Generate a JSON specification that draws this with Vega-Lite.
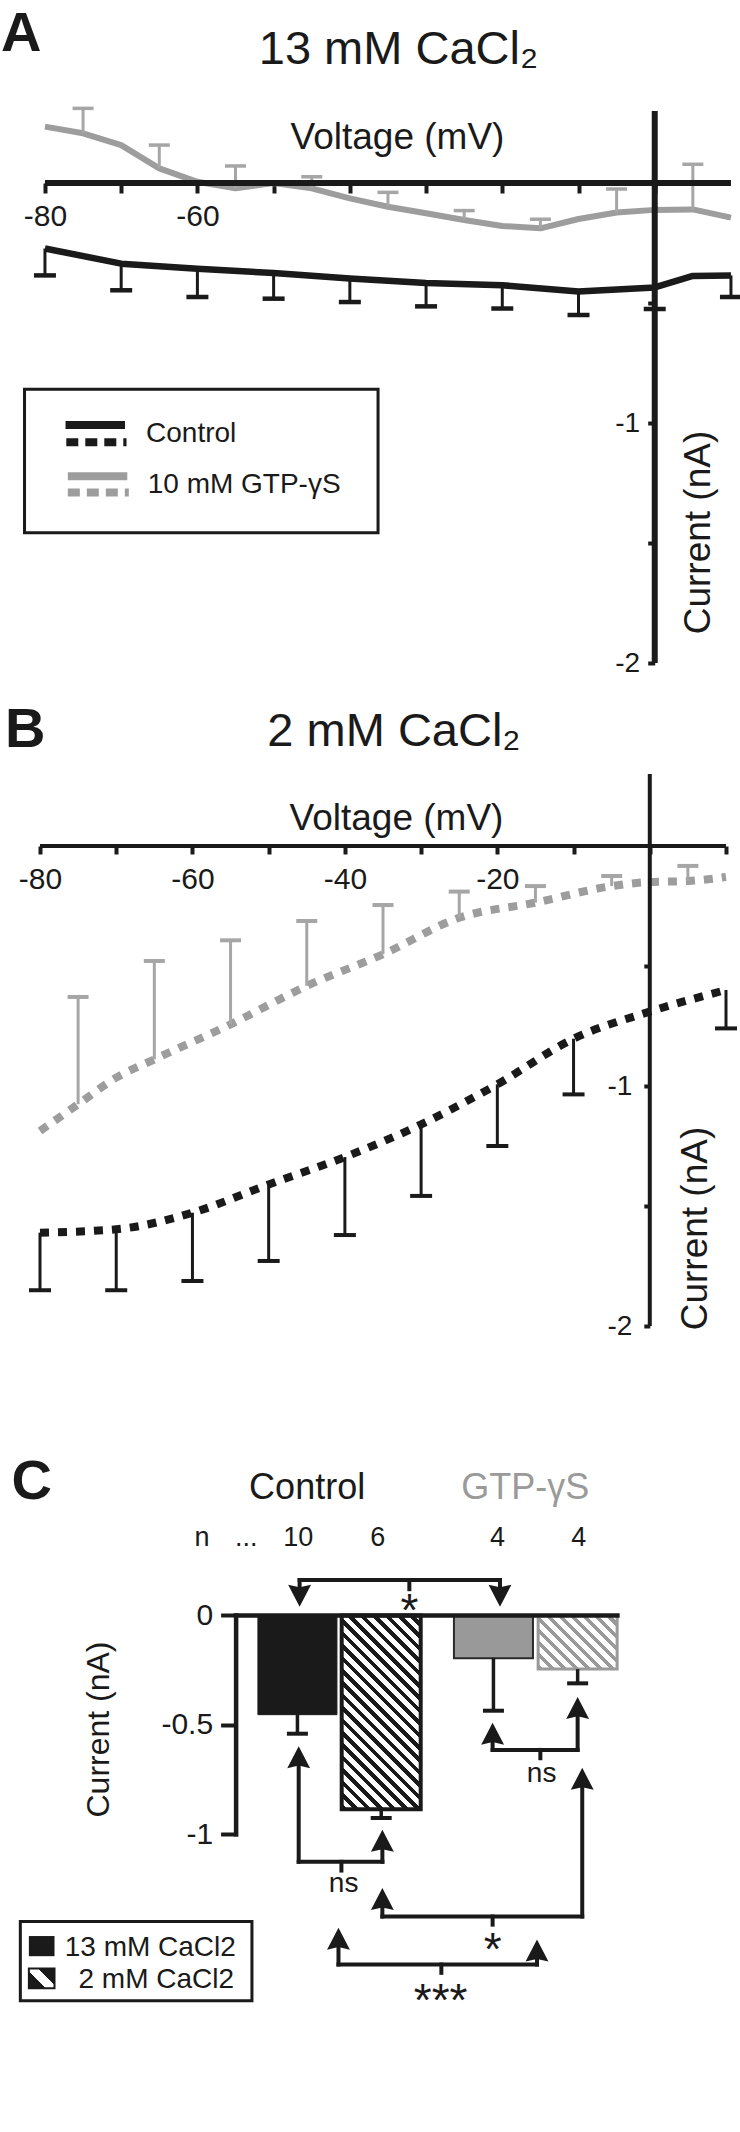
{
"$schema": "https://vega.github.io/schema/vega-lite/v6.json",
"background": "white",
"padding": {"left": 0, "top": 6, "right": 0, "bottom": 0},
"bounds": "flush",
"spacing": 111,
"config": {
  "view": {"stroke": null},
  "font": "Liberation Sans",
  "axis": {"grid": false, "domain": false, "labelColor": "#1a1a1a", "titleColor": "#1a1a1a", "tickColor": "#1a1a1a", "titleFontWeight": "normal", "labelFont": "Liberation Sans", "titleFont": "Liberation Sans", "labelOverlap": false, "labelFlush": false},
  "text": {"font": "Liberation Sans", "color": "#1a1a1a"}
},
"datasets": {
  "ctrlA": [
    {"v": -80, "i": -0.273, "e": -0.385},
    {"v": -70, "i": -0.336, "e": -0.447},
    {"v": -60, "i": -0.357, "e": -0.475},
    {"v": -50, "i": -0.375, "e": -0.482},
    {"v": -40, "i": -0.398, "e": -0.496},
    {"v": -30, "i": -0.417, "e": -0.514},
    {"v": -20, "i": -0.426, "e": -0.523},
    {"v": -10, "i": -0.452, "e": -0.55},
    {"v": 0, "i": -0.435, "e": -0.525},
    {"v": 5, "i": -0.387},
    {"v": 10, "i": -0.385, "e": -0.475}
  ],
  "gtpA": [
    {"v": -80, "i": 0.235},
    {"v": -75, "i": 0.207, "e": 0.311},
    {"v": -70, "i": 0.158},
    {"v": -65, "i": 0.061, "e": 0.158},
    {"v": -60, "i": 0.005},
    {"v": -55, "i": -0.022, "e": 0.071},
    {"v": -50, "i": 0.0},
    {"v": -45, "i": -0.022, "e": 0.026},
    {"v": -40, "i": -0.064},
    {"v": -35, "i": -0.099, "e": -0.039},
    {"v": -30, "i": -0.126},
    {"v": -25, "i": -0.154, "e": -0.115},
    {"v": -20, "i": -0.179},
    {"v": -15, "i": -0.189, "e": -0.151},
    {"v": -10, "i": -0.15},
    {"v": -5, "i": -0.123, "e": -0.025},
    {"v": 0, "i": -0.112},
    {"v": 5, "i": -0.11, "e": 0.078},
    {"v": 10, "i": -0.144}
  ],
  "ctrlB": [
    {"v": -80, "i": -1.611, "e": -1.851},
    {"v": -70, "i": -1.597, "e": -1.851},
    {"v": -60, "i": -1.528, "e": -1.8125},
    {"v": -50, "i": -1.41, "e": -1.729},
    {"v": -40, "i": -1.296, "e": -1.621},
    {"v": -30, "i": -1.16, "e": -1.458},
    {"v": -20, "i": -0.993, "e": -1.25},
    {"v": -10, "i": -0.803, "e": -1.035},
    {"v": 0, "i": -0.69},
    {"v": 10, "i": -0.6, "e": -0.76}
  ],
  "gtpB": [
    {"v": -80, "i": -1.1875},
    {"v": -75, "i": -1.076, "e": -0.629},
    {"v": -70, "i": -0.965},
    {"v": -65, "i": -0.889, "e": -0.479},
    {"v": -55, "i": -0.743, "e": -0.393},
    {"v": -45, "i": -0.583, "e": -0.3125},
    {"v": -35, "i": -0.451, "e": -0.246},
    {"v": -25, "i": -0.299, "e": -0.19},
    {"v": -15, "i": -0.236, "e": -0.167},
    {"v": -5, "i": -0.167, "e": -0.125},
    {"v": 0, "i": -0.15},
    {"v": 5, "i": -0.146, "e": -0.083},
    {"v": 10, "i": -0.129}
  ],
  "barsC": [
    {"k": "13 mM CaCl2, Control", "g": "Control", "pos": 0.99, "i": -0.453, "e": -0.54},
    {"k": "2 mM CaCl2, Control", "g": "Control", "pos": 1.99, "i": -0.885, "e": -0.925},
    {"k": "13 mM CaCl2, GTP-γS", "g": "GTP-γS", "pos": 3.33, "i": -0.195, "e": -0.435},
    {"k": "2 mM CaCl2, GTP-γS", "g": "GTP-γS", "pos": 4.335, "i": -0.245, "e": -0.31}
  ],
  "bracketsC": [
    {"x1": 1.016, "x2": 3.408, "y1": 0.162, "y2": 0.162},
    {"x1": 1.016, "x2": 1.016, "y1": 0.162, "y2": 0.1},
    {"x1": 3.408, "x2": 3.408, "y1": 0.162, "y2": 0.1},
    {"x1": 2.326, "x2": 2.326, "y1": 0.162, "y2": 0.12},
    {"x1": 3.32, "x2": 4.335, "y1": -0.614, "y2": -0.614},
    {"x1": 3.32, "x2": 3.32, "y1": -0.55, "y2": -0.614},
    {"x1": 4.335, "x2": 4.335, "y1": -0.432, "y2": -0.614},
    {"x1": 3.89, "x2": 3.89, "y1": -0.614, "y2": -0.652},
    {"x1": 1.005, "x2": 2.004, "y1": -1.125, "y2": -1.125},
    {"x1": 1.005, "x2": 1.005, "y1": -0.657, "y2": -1.125},
    {"x1": 2.004, "x2": 2.004, "y1": -1.039, "y2": -1.125},
    {"x1": 1.515, "x2": 1.515, "y1": -1.125, "y2": -1.165},
    {"x1": 2.004, "x2": 4.39, "y1": -1.375, "y2": -1.375},
    {"x1": 2.004, "x2": 2.004, "y1": -1.305, "y2": -1.375},
    {"x1": 4.39, "x2": 4.39, "y1": -0.756, "y2": -1.375},
    {"x1": 3.32, "x2": 3.32, "y1": -1.375, "y2": -1.412},
    {"x1": 1.48, "x2": 3.85, "y1": -1.594, "y2": -1.594},
    {"x1": 1.48, "x2": 1.48, "y1": -1.486, "y2": -1.594},
    {"x1": 3.85, "x2": 3.85, "y1": -1.54, "y2": -1.594},
    {"x1": 2.708, "x2": 2.708, "y1": -1.594, "y2": -1.632}
  ],
  "arrowsC": [
    {"x": 1.016, "y": 0.04, "d": "down"},
    {"x": 3.408, "y": 0.04, "d": "down"},
    {"x": 3.32, "y": -0.49, "d": "up"},
    {"x": 4.335, "y": -0.372, "d": "up"},
    {"x": 1.005, "y": -0.597, "d": "up"},
    {"x": 2.004, "y": -0.979, "d": "up"},
    {"x": 2.004, "y": -1.245, "d": "up"},
    {"x": 4.39, "y": -0.696, "d": "up"},
    {"x": 1.48, "y": -1.426, "d": "up"},
    {"x": 3.85, "y": -1.48, "d": "up"}
  ]
},
"vconcat": [
 {
  "width": 686, "height": 552,
  "layer": [
   {
    "data": {"values": [{"x1": -82.68, "x2": -36.3, "y1": -0.8596, "y2": -1.457}]},
    "mark": {"type": "rect", "fill": "white", "stroke": "#1a1a1a", "strokeWidth": 3},
    "encoding": {
      "x": {"field": "x1", "type": "quantitative", "scale": {"domain": [-80.65, 9.35], "nice": false, "zero": false},
        "axis": {"orient": "bottom", "offset": -480, "values": [-80, -70, -60, -50, -40, -30, -20, -10, 0, 10], "tickSize": 10, "tickWidth": 4, "labelExpr": "datum.value == -80 ? '-80' : datum.value == -60 ? '-60' : ''", "labelFontSize": 30, "labelPadding": 8, "labelDx": -7, "title": "Voltage (mV)", "titleFontSize": 37, "titleX": 357, "titleY": -46, "titleBaseline": "middle", "titleAlign": "center"}},
      "x2": {"field": "x2"},
      "y": {"field": "y1", "type": "quantitative", "scale": {"domain": [-2, 0.3], "nice": false, "zero": false},
        "axis": {"orient": "left", "offset": -614.7, "values": [-2, -1.5, -1, -0.5], "tickSize": 7, "tickWidth": 4, "labelExpr": "datum.value == -1 ? '-1' : datum.value == -2 ? '-2' : ''", "labelFontSize": 28, "labelPadding": 8, "title": "Current (nA)", "titleFontSize": 37, "titleX": 44, "titleY": 421, "titleAngle": -90, "titleBaseline": "middle", "titleAlign": "center"}},
      "y2": {"field": "y2"}
    }
   },
   {
    "data": {"values": [
      {"k": "Control solid", "x1": -77.3, "x2": -69.5, "y": -1.008},
      {"k": "Control dashed", "x1": -77.2, "x2": -69.3, "y": -1.08},
      {"k": "GTP solid", "x1": -77.0, "x2": -69.2, "y": -1.222},
      {"k": "GTP dashed", "x1": -77.0, "x2": -69.0, "y": -1.29}
    ]},
    "mark": {"type": "rule", "strokeWidth": 8, "strokeCap": "butt"},
    "encoding": {
      "x": {"field": "x1", "type": "quantitative"},
      "x2": {"field": "x2"},
      "y": {"field": "y", "type": "quantitative"},
      "color": {"field": "k", "type": "nominal", "scale": {"domain": ["Control solid", "Control dashed", "GTP solid", "GTP dashed"], "range": ["#1a1a1a", "#1a1a1a", "#9d9d9d", "#9d9d9d"]}, "legend": null},
      "strokeDash": {"field": "k", "type": "nominal", "scale": {"domain": ["Control solid", "Control dashed", "GTP solid", "GTP dashed"], "range": [[1, 0], [12, 7], [1, 0], [12, 7]]}, "legend": null}
    }
   },
   {
    "data": {"values": [{"x": -66.74, "y": -1.079, "t": "Control"}, {"x": -66.52, "y": -1.293, "t": "10 mM GTP-γS"}]},
    "mark": {"type": "text", "align": "left", "baseline": "alphabetic", "fontSize": 28},
    "encoding": {"x": {"field": "x", "type": "quantitative"}, "y": {"field": "y", "type": "quantitative"}, "text": {"field": "t"}}
   },
   {
    "data": {"name": "gtpA"},
    "mark": {"type": "line", "color": "#9d9d9d", "strokeWidth": 6, "strokeJoin": "round"},
    "encoding": {"x": {"field": "v", "type": "quantitative"}, "y": {"field": "i", "type": "quantitative"}}
   },
   {
    "data": {"name": "gtpA"},
    "transform": [{"filter": "isValid(datum.e)"}],
    "mark": {"type": "rule", "color": "#a6a6a6", "strokeWidth": 3},
    "encoding": {"x": {"field": "v", "type": "quantitative"}, "y": {"field": "i", "type": "quantitative"}, "y2": {"field": "e"}}
   },
   {
    "data": {"name": "gtpA"},
    "transform": [{"filter": "isValid(datum.e)"}],
    "mark": {"type": "tick", "orient": "horizontal", "color": "#a6a6a6", "size": 21, "thickness": 3.5, "opacity": 1},
    "encoding": {"x": {"field": "v", "type": "quantitative"}, "y": {"field": "e", "type": "quantitative"}}
   },
   {
    "data": {"name": "ctrlA"},
    "mark": {"type": "line", "color": "#1a1a1a", "strokeWidth": 6.5, "strokeJoin": "round"},
    "encoding": {"x": {"field": "v", "type": "quantitative"}, "y": {"field": "i", "type": "quantitative"}}
   },
   {
    "data": {"name": "ctrlA"},
    "transform": [{"filter": "isValid(datum.e)"}],
    "mark": {"type": "rule", "color": "#1a1a1a", "strokeWidth": 3},
    "encoding": {"x": {"field": "v", "type": "quantitative"}, "y": {"field": "i", "type": "quantitative"}, "y2": {"field": "e"}}
   },
   {
    "data": {"name": "ctrlA"},
    "transform": [{"filter": "isValid(datum.e)"}],
    "mark": {"type": "tick", "orient": "horizontal", "color": "#1a1a1a", "size": 22, "thickness": 4.5, "opacity": 1},
    "encoding": {"x": {"field": "v", "type": "quantitative"}, "y": {"field": "e", "type": "quantitative"}}
   },
   {
    "data": {"values": [{"x1": -80, "x2": 10, "y1": 0, "y2": 0}, {"x1": 0, "x2": 0, "y1": -2, "y2": 0.3}]},
    "mark": {"type": "rule", "color": "#1a1a1a", "strokeWidth": 6, "strokeCap": "butt"},
    "encoding": {"x": {"field": "x1", "type": "quantitative"}, "x2": {"field": "x2"}, "y": {"field": "y1", "type": "quantitative"}, "y2": {"field": "y2"}}
   },
   {
    "data": {"values": [{"x": -33.62, "y": 0.494, "t": "13 mM CaCl₂"}]},
    "mark": {"type": "text", "align": "center", "baseline": "alphabetic", "fontSize": 47},
    "encoding": {"x": {"field": "x", "type": "quantitative"}, "y": {"field": "y", "type": "quantitative"}, "text": {"field": "t"}}
   },
   {
    "data": {"values": [{"x": -85.77, "y": 0.733, "t": "A"}]},
    "mark": {"type": "text", "align": "left", "baseline": "top", "fontSize": 56, "fontWeight": "bold"},
    "encoding": {"x": {"field": "x", "type": "quantitative"}, "y": {"field": "y", "type": "quantitative"}, "text": {"field": "t"}}
   }
  ]
 },
 {
  "width": 686, "height": 552,
  "layer": [
   {
    "data": {"name": "gtpB"},
    "mark": {"type": "line", "color": "#9d9d9d", "strokeWidth": 8, "strokeDash": [9, 9], "strokeCap": "butt", "interpolate": "monotone"},
    "encoding": {
      "x": {"field": "v", "type": "quantitative", "scale": {"domain": [-80, 10], "nice": false, "zero": false},
        "axis": {"orient": "bottom", "offset": -480, "values": [-80, -70, -60, -50, -40, -30, -20, -10, 0, 10], "tickSize": 8, "tickWidth": 4, "labelExpr": "datum.value == -80 ? '-80' : datum.value == -60 ? '-60' : datum.value == -40 ? '-40' : datum.value == -20 ? '-20' : ''", "labelFontSize": 30, "labelPadding": 10, "labelDx": -4, "title": "Voltage (mV)", "titleFontSize": 37, "titleX": 356, "titleY": -28, "titleBaseline": "middle", "titleAlign": "center"}},
      "y": {"field": "i", "type": "quantitative", "scale": {"domain": [-2, 0.3], "nice": false, "zero": false},
        "axis": {"orient": "left", "offset": -609.8, "values": [-2, -1.5, -1, -0.5], "tickSize": 6, "tickWidth": 4, "labelExpr": "datum.value == -1 ? '-1' : datum.value == -2 ? '-2' : ''", "labelFontSize": 28, "labelPadding": 12, "title": "Current (nA)", "titleFontSize": 37, "titleX": 46, "titleY": 454, "titleAngle": -90, "titleBaseline": "middle", "titleAlign": "center"}}
    }
   },
   {
    "data": {"name": "gtpB"},
    "transform": [{"filter": "isValid(datum.e)"}],
    "mark": {"type": "rule", "color": "#a6a6a6", "strokeWidth": 3},
    "encoding": {"x": {"field": "v", "type": "quantitative"}, "y": {"field": "i", "type": "quantitative"}, "y2": {"field": "e"}}
   },
   {
    "data": {"name": "gtpB"},
    "transform": [{"filter": "isValid(datum.e)"}],
    "mark": {"type": "tick", "orient": "horizontal", "color": "#a6a6a6", "size": 21, "thickness": 4, "opacity": 1},
    "encoding": {"x": {"field": "v", "type": "quantitative"}, "y": {"field": "e", "type": "quantitative"}}
   },
   {
    "data": {"name": "ctrlB"},
    "mark": {"type": "line", "color": "#1a1a1a", "strokeWidth": 8, "strokeDash": [9, 9], "strokeCap": "butt", "interpolate": "monotone"},
    "encoding": {"x": {"field": "v", "type": "quantitative"}, "y": {"field": "i", "type": "quantitative"}}
   },
   {
    "data": {"name": "ctrlB"},
    "transform": [{"filter": "isValid(datum.e)"}],
    "mark": {"type": "rule", "color": "#1a1a1a", "strokeWidth": 3},
    "encoding": {"x": {"field": "v", "type": "quantitative"}, "y": {"field": "i", "type": "quantitative"}, "y2": {"field": "e"}}
   },
   {
    "data": {"name": "ctrlB"},
    "transform": [{"filter": "isValid(datum.e)"}],
    "mark": {"type": "tick", "orient": "horizontal", "color": "#1a1a1a", "size": 22, "thickness": 4, "opacity": 1},
    "encoding": {"x": {"field": "v", "type": "quantitative"}, "y": {"field": "e", "type": "quantitative"}}
   },
   {
    "data": {"values": [{"x1": -80, "x2": 10, "y1": 0, "y2": 0}, {"x1": 0, "x2": 0, "y1": -2, "y2": 0.3}]},
    "mark": {"type": "rule", "color": "#1a1a1a", "strokeWidth": 4, "strokeCap": "butt"},
    "encoding": {"x": {"field": "x1", "type": "quantitative"}, "x2": {"field": "x2"}, "y": {"field": "y1", "type": "quantitative"}, "y2": {"field": "y2"}}
   },
   {
    "data": {"values": [{"x": -33.56, "y": 0.4167, "t": "2 mM CaCl₂"}]},
    "mark": {"type": "text", "align": "center", "baseline": "alphabetic", "fontSize": 47},
    "encoding": {"x": {"field": "x", "type": "quantitative"}, "y": {"field": "y", "type": "quantitative"}, "text": {"field": "t"}}
   },
   {
    "data": {"values": [{"x": -84.59, "y": 0.596, "t": "B"}]},
    "mark": {"type": "text", "align": "left", "baseline": "top", "fontSize": 56, "fontWeight": "bold"},
    "encoding": {"x": {"field": "x", "type": "quantitative"}, "y": {"field": "y", "type": "quantitative"}, "text": {"field": "t"}}
   }
  ]
 },
 {
  "width": 686, "height": 704,
  "layer": [
   {
    "data": {"name": "barsC"},
    "transform": [{"filter": "datum.k == '13 mM CaCl2, Control'"}],
    "mark": {"type": "bar", "width": 79, "fill": "#1a1a1a", "stroke": "#1a1a1a", "strokeWidth": 1, "opacity": 1},
    "encoding": {
      "x": {"field": "pos", "type": "quantitative", "scale": {"domain": [-2.0235, 6.0465], "nice": false, "zero": false}, "axis": null},
      "y": {"field": "i", "type": "quantitative", "stack": null, "scale": {"domain": [-2.4, 0.815], "nice": false, "zero": false},
        "axis": {"orient": "left", "offset": -193.6, "values": [0, -0.5, -1], "tickSize": 13, "tickWidth": 4, "labelExpr": "datum.value == 0 ? '0' : '-' + abs(datum.value)", "labelFontSize": 30, "labelPadding": 8, "title": "Current (nA)", "titleFontSize": 32, "titleX": -135, "titleY": 292, "titleAngle": -90, "titleBaseline": "middle", "titleAlign": "center"}},
      "y2": {"datum": 0}
    }
   },
   {
    "data": {"name": "barsC"},
    "transform": [{"filter": "datum.k == '2 mM CaCl2, Control'"}],
    "mark": {"type": "bar", "width": 79, "stroke": "#1a1a1a", "strokeWidth": 4, "opacity": 1,
      "fill": {"gradient": "linear", "x1": 0, "y1": 1, "x2": 0.4924, "y2": -0.2072, "stops": [
        {"offset": 0, "color": "#1a1a1a"}, {"offset": 0.0205, "color": "#1a1a1a"}, {"offset": 0.0205, "color": "#ffffff"}, {"offset": 0.0455, "color": "#ffffff"},
        {"offset": 0.0455, "color": "#1a1a1a"}, {"offset": 0.066, "color": "#1a1a1a"}, {"offset": 0.066, "color": "#ffffff"}, {"offset": 0.0909, "color": "#ffffff"},
        {"offset": 0.0909, "color": "#1a1a1a"}, {"offset": 0.1114, "color": "#1a1a1a"}, {"offset": 0.1114, "color": "#ffffff"}, {"offset": 0.1364, "color": "#ffffff"},
        {"offset": 0.1364, "color": "#1a1a1a"}, {"offset": 0.1569, "color": "#1a1a1a"}, {"offset": 0.1569, "color": "#ffffff"}, {"offset": 0.1818, "color": "#ffffff"},
        {"offset": 0.1818, "color": "#1a1a1a"}, {"offset": 0.2023, "color": "#1a1a1a"}, {"offset": 0.2023, "color": "#ffffff"}, {"offset": 0.2273, "color": "#ffffff"},
        {"offset": 0.2273, "color": "#1a1a1a"}, {"offset": 0.2478, "color": "#1a1a1a"}, {"offset": 0.2478, "color": "#ffffff"}, {"offset": 0.2727, "color": "#ffffff"},
        {"offset": 0.2727, "color": "#1a1a1a"}, {"offset": 0.2932, "color": "#1a1a1a"}, {"offset": 0.2932, "color": "#ffffff"}, {"offset": 0.3182, "color": "#ffffff"},
        {"offset": 0.3182, "color": "#1a1a1a"}, {"offset": 0.3387, "color": "#1a1a1a"}, {"offset": 0.3387, "color": "#ffffff"}, {"offset": 0.3636, "color": "#ffffff"},
        {"offset": 0.3636, "color": "#1a1a1a"}, {"offset": 0.3841, "color": "#1a1a1a"}, {"offset": 0.3841, "color": "#ffffff"}, {"offset": 0.4091, "color": "#ffffff"},
        {"offset": 0.4091, "color": "#1a1a1a"}, {"offset": 0.4296, "color": "#1a1a1a"}, {"offset": 0.4296, "color": "#ffffff"}, {"offset": 0.4545, "color": "#ffffff"},
        {"offset": 0.4545, "color": "#1a1a1a"}, {"offset": 0.475, "color": "#1a1a1a"}, {"offset": 0.475, "color": "#ffffff"}, {"offset": 0.5, "color": "#ffffff"},
        {"offset": 0.5, "color": "#1a1a1a"}, {"offset": 0.5205, "color": "#1a1a1a"}, {"offset": 0.5205, "color": "#ffffff"}, {"offset": 0.5455, "color": "#ffffff"},
        {"offset": 0.5455, "color": "#1a1a1a"}, {"offset": 0.566, "color": "#1a1a1a"}, {"offset": 0.566, "color": "#ffffff"}, {"offset": 0.5909, "color": "#ffffff"},
        {"offset": 0.5909, "color": "#1a1a1a"}, {"offset": 0.6114, "color": "#1a1a1a"}, {"offset": 0.6114, "color": "#ffffff"}, {"offset": 0.6364, "color": "#ffffff"},
        {"offset": 0.6364, "color": "#1a1a1a"}, {"offset": 0.6569, "color": "#1a1a1a"}, {"offset": 0.6569, "color": "#ffffff"}, {"offset": 0.6818, "color": "#ffffff"},
        {"offset": 0.6818, "color": "#1a1a1a"}, {"offset": 0.7023, "color": "#1a1a1a"}, {"offset": 0.7023, "color": "#ffffff"}, {"offset": 0.7273, "color": "#ffffff"},
        {"offset": 0.7273, "color": "#1a1a1a"}, {"offset": 0.7478, "color": "#1a1a1a"}, {"offset": 0.7478, "color": "#ffffff"}, {"offset": 0.7727, "color": "#ffffff"},
        {"offset": 0.7727, "color": "#1a1a1a"}, {"offset": 0.7932, "color": "#1a1a1a"}, {"offset": 0.7932, "color": "#ffffff"}, {"offset": 0.8182, "color": "#ffffff"},
        {"offset": 0.8182, "color": "#1a1a1a"}, {"offset": 0.8387, "color": "#1a1a1a"}, {"offset": 0.8387, "color": "#ffffff"}, {"offset": 0.8636, "color": "#ffffff"},
        {"offset": 0.8636, "color": "#1a1a1a"}, {"offset": 0.8841, "color": "#1a1a1a"}, {"offset": 0.8841, "color": "#ffffff"}, {"offset": 0.9091, "color": "#ffffff"},
        {"offset": 0.9091, "color": "#1a1a1a"}, {"offset": 0.9296, "color": "#1a1a1a"}, {"offset": 0.9296, "color": "#ffffff"}, {"offset": 0.9545, "color": "#ffffff"},
        {"offset": 0.9545, "color": "#1a1a1a"}, {"offset": 0.975, "color": "#1a1a1a"}, {"offset": 0.975, "color": "#ffffff"}, {"offset": 1, "color": "#ffffff"}
      ]}},
    "encoding": {
      "x": {"field": "pos", "type": "quantitative", "axis": null},
      "y": {"field": "i", "type": "quantitative", "stack": null},
      "y2": {"datum": 0}
    }
   },
   {
    "data": {"name": "barsC"},
    "transform": [{"filter": "datum.k == '13 mM CaCl2, GTP-γS'"}],
    "mark": {"type": "bar", "width": 79, "fill": "#999999", "stroke": "#2a2a2a", "strokeWidth": 2, "opacity": 1},
    "encoding": {
      "x": {"field": "pos", "type": "quantitative", "axis": null},
      "y": {"field": "i", "type": "quantitative", "stack": null},
      "y2": {"datum": 0}
    }
   },
   {
    "data": {"name": "barsC"},
    "transform": [{"filter": "datum.k == '2 mM CaCl2, GTP-γS'"}],
    "mark": {"type": "bar", "width": 79, "stroke": "#9a9a9a", "strokeWidth": 3, "opacity": 1,
      "fill": {"gradient": "linear", "x1": 0, "y1": 1, "x2": 1.1491, "y2": 0.2201, "stops": [
        {"offset": 0, "color": "#9a9a9a"}, {"offset": 0.0409, "color": "#9a9a9a"}, {"offset": 0.0409, "color": "#ffffff"}, {"offset": 0.0909, "color": "#ffffff"},
        {"offset": 0.0909, "color": "#9a9a9a"}, {"offset": 0.1318, "color": "#9a9a9a"}, {"offset": 0.1318, "color": "#ffffff"}, {"offset": 0.1818, "color": "#ffffff"},
        {"offset": 0.1818, "color": "#9a9a9a"}, {"offset": 0.2227, "color": "#9a9a9a"}, {"offset": 0.2227, "color": "#ffffff"}, {"offset": 0.2727, "color": "#ffffff"},
        {"offset": 0.2727, "color": "#9a9a9a"}, {"offset": 0.3136, "color": "#9a9a9a"}, {"offset": 0.3136, "color": "#ffffff"}, {"offset": 0.3636, "color": "#ffffff"},
        {"offset": 0.3636, "color": "#9a9a9a"}, {"offset": 0.4045, "color": "#9a9a9a"}, {"offset": 0.4045, "color": "#ffffff"}, {"offset": 0.4545, "color": "#ffffff"},
        {"offset": 0.4545, "color": "#9a9a9a"}, {"offset": 0.4955, "color": "#9a9a9a"}, {"offset": 0.4955, "color": "#ffffff"}, {"offset": 0.5455, "color": "#ffffff"},
        {"offset": 0.5455, "color": "#9a9a9a"}, {"offset": 0.5864, "color": "#9a9a9a"}, {"offset": 0.5864, "color": "#ffffff"}, {"offset": 0.6364, "color": "#ffffff"},
        {"offset": 0.6364, "color": "#9a9a9a"}, {"offset": 0.6773, "color": "#9a9a9a"}, {"offset": 0.6773, "color": "#ffffff"}, {"offset": 0.7273, "color": "#ffffff"},
        {"offset": 0.7273, "color": "#9a9a9a"}, {"offset": 0.7682, "color": "#9a9a9a"}, {"offset": 0.7682, "color": "#ffffff"}, {"offset": 0.8182, "color": "#ffffff"},
        {"offset": 0.8182, "color": "#9a9a9a"}, {"offset": 0.8591, "color": "#9a9a9a"}, {"offset": 0.8591, "color": "#ffffff"}, {"offset": 0.9091, "color": "#ffffff"},
        {"offset": 0.9091, "color": "#9a9a9a"}, {"offset": 0.95, "color": "#9a9a9a"}, {"offset": 0.95, "color": "#ffffff"}, {"offset": 1, "color": "#ffffff"}
      ]}},
    "encoding": {
      "x": {"field": "pos", "type": "quantitative", "axis": null},
      "y": {"field": "i", "type": "quantitative", "stack": null},
      "y2": {"datum": 0}
    }
   },
   {
    "data": {"name": "barsC"},
    "mark": {"type": "rule", "strokeWidth": 3.5},
    "encoding": {
      "x": {"field": "pos", "type": "quantitative", "axis": null},
      "y": {"field": "i", "type": "quantitative"},
      "y2": {"field": "e"},
      "color": {"field": "g", "type": "nominal", "scale": {"domain": ["Control", "GTP-γS"], "range": ["#1a1a1a", "#a6a6a6"]}, "legend": null}
    }
   },
   {
    "data": {"name": "barsC"},
    "mark": {"type": "tick", "orient": "horizontal", "size": 21, "thickness": 4, "opacity": 1},
    "encoding": {
      "x": {"field": "pos", "type": "quantitative", "axis": null},
      "y": {"field": "e", "type": "quantitative"},
      "color": {"field": "g", "type": "nominal", "legend": null}
    }
   },
   {
    "data": {"values": [{"x1": 0.258, "x2": 4.81, "y1": 0, "y2": 0}, {"x1": 0.258, "x2": 0.258, "y1": 0, "y2": -1}]},
    "mark": {"type": "rule", "color": "#1a1a1a", "strokeWidth": 4.5, "strokeCap": "square"},
    "encoding": {"x": {"field": "x1", "type": "quantitative", "axis": null}, "x2": {"field": "x2"}, "y": {"field": "y1", "type": "quantitative"}, "y2": {"field": "y2"}}
   },
   {
    "data": {"name": "bracketsC"},
    "mark": {"type": "rule", "color": "#1a1a1a", "strokeWidth": 4, "strokeCap": "square"},
    "encoding": {"x": {"field": "x1", "type": "quantitative", "axis": null}, "x2": {"field": "x2"}, "y": {"field": "y1", "type": "quantitative"}, "y2": {"field": "y2"}}
   },
   {
    "data": {"name": "arrowsC"},
    "transform": [{"filter": "datum.d == 'up'"}],
    "mark": {"type": "point", "shape": "M0,0L0.52,1L0,0.88L-0.52,1Z", "size": 1936, "filled": true, "color": "#1a1a1a", "opacity": 1, "strokeWidth": 0},
    "encoding": {"x": {"field": "x", "type": "quantitative", "axis": null}, "y": {"field": "y", "type": "quantitative"}}
   },
   {
    "data": {"name": "arrowsC"},
    "transform": [{"filter": "datum.d == 'down'"}],
    "mark": {"type": "point", "shape": "M0,0L0.52,-1L0,-0.88L-0.52,-1Z", "size": 1936, "filled": true, "color": "#1a1a1a", "opacity": 1, "strokeWidth": 0},
    "encoding": {"x": {"field": "x", "type": "quantitative", "axis": null}, "y": {"field": "y", "type": "quantitative"}}
   },
   {
    "data": {"values": [{"x": 2.326, "y": -0.05, "t": "*"}, {"x": 3.32, "y": -1.595, "t": "*"}, {"x": 2.70, "y": -1.83, "t": "***"}]},
    "mark": {"type": "text", "align": "center", "baseline": "alphabetic", "fontSize": 46},
    "encoding": {"x": {"field": "x", "type": "quantitative", "axis": null}, "y": {"field": "y", "type": "quantitative"}, "text": {"field": "t"}}
   },
   {
    "data": {"values": [{"x": 3.905, "y": -0.724, "t": "ns"}, {"x": 1.541, "y": -1.226, "t": "ns"}]},
    "mark": {"type": "text", "align": "center", "baseline": "middle", "fontSize": 28},
    "encoding": {"x": {"field": "x", "type": "quantitative", "axis": null}, "y": {"field": "y", "type": "quantitative"}, "text": {"field": "t"}}
   },
   {
    "data": {"values": [{"x": 1.106, "y": 0.582, "t": "Control"}]},
    "mark": {"type": "text", "align": "center", "baseline": "middle", "fontSize": 36},
    "encoding": {"x": {"field": "x", "type": "quantitative", "axis": null}, "y": {"field": "y", "type": "quantitative"}, "text": {"field": "t"}}
   },
   {
    "data": {"values": [{"x": 3.71, "y": 0.582, "t": "GTP-γS"}]},
    "mark": {"type": "text", "align": "center", "baseline": "middle", "fontSize": 36, "color": "#9a9a9a"},
    "encoding": {"x": {"field": "x", "type": "quantitative", "axis": null}, "y": {"field": "y", "type": "quantitative"}, "text": {"field": "t"}}
   },
   {
    "data": {"values": [{"x": -0.15, "y": 0.354, "t": "n"}, {"x": 0.38, "y": 0.354, "t": "..."}, {"x": 1.0, "y": 0.354, "t": "10"}, {"x": 1.95, "y": 0.354, "t": "6"}, {"x": 3.38, "y": 0.354, "t": "4"}, {"x": 4.35, "y": 0.354, "t": "4"}]},
    "mark": {"type": "text", "align": "center", "baseline": "middle", "fontSize": 27},
    "encoding": {"x": {"field": "x", "type": "quantitative", "axis": null}, "y": {"field": "y", "type": "quantitative"}, "text": {"field": "t"}}
   },
   {
    "data": {"values": [{"x1": -2.318, "x2": 0.447, "y1": -1.398, "y2": -1.76}]},
    "mark": {"type": "rect", "fill": "white", "stroke": "#1a1a1a", "strokeWidth": 3},
    "encoding": {"x": {"field": "x1", "type": "quantitative", "axis": null}, "x2": {"field": "x2"}, "y": {"field": "y1", "type": "quantitative"}, "y2": {"field": "y2"}}
   },
   {
    "data": {"values": [{"x1": -2.216, "x2": -1.91, "y1": -1.464, "y2": -1.556}]},
    "mark": {"type": "rect", "fill": "#1a1a1a"},
    "encoding": {"x": {"field": "x1", "type": "quantitative", "axis": null}, "x2": {"field": "x2"}, "y": {"field": "y1", "type": "quantitative"}, "y2": {"field": "y2"}}
   },
   {
    "data": {"values": [{"x1": -2.216, "x2": -1.91, "y1": -1.612, "y2": -1.702}]},
    "mark": {"type": "rect", "stroke": "#1a1a1a", "strokeWidth": 2,
      "fill": {"gradient": "linear", "x1": 0, "y1": 1, "x2": 1.111, "y2": 0.1444, "stops": [
        {"offset": 0, "color": "#1a1a1a"}, {"offset": 0.36, "color": "#1a1a1a"}, {"offset": 0.36, "color": "#ffffff"}, {"offset": 0.64, "color": "#ffffff"}, {"offset": 0.64, "color": "#1a1a1a"}, {"offset": 1, "color": "#1a1a1a"}
      ]}},
    "encoding": {"x": {"field": "x1", "type": "quantitative", "axis": null}, "x2": {"field": "x2"}, "y": {"field": "y1", "type": "quantitative"}, "y2": {"field": "y2"}}
   },
   {
    "data": {"values": [{"x": -1.788, "y": -1.517, "t": "13 mM CaCl2"}, {"x": -1.6235, "y": -1.667, "t": "2 mM CaCl2"}]},
    "mark": {"type": "text", "align": "left", "baseline": "middle", "fontSize": 28},
    "encoding": {"x": {"field": "x", "type": "quantitative", "axis": null}, "y": {"field": "y", "type": "quantitative"}, "text": {"field": "t"}}
   },
   {
    "data": {"values": [{"x": -2.4235, "y": 0.733, "t": "C"}]},
    "mark": {"type": "text", "align": "left", "baseline": "top", "fontSize": 56, "fontWeight": "bold"},
    "encoding": {"x": {"field": "x", "type": "quantitative", "axis": null}, "y": {"field": "y", "type": "quantitative"}, "text": {"field": "t"}}
   }
  ]
 }
]
}
